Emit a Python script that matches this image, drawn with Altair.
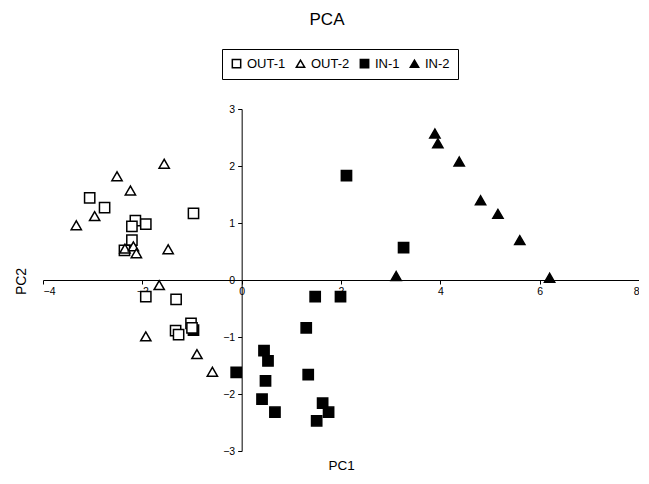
import altair as alt
import pandas as pd

series_names = ["OUT-1", "OUT-2", "IN-1", "IN-2"]

out1_x = [-3.06, -2.76, -2.14, -2.21, -1.93, -0.97, -2.21, -2.36, -1.93, -1.32, -1.33, -1.27, -1.02, -1.00]
out1_y = [1.44, 1.27, 1.04, 0.94, 0.98, 1.17, 0.70, 0.52, -0.29, -0.34, -0.89, -0.96, -0.76, -0.84]

out2_x = [-3.33, -2.96, -2.51, -2.24, -1.56, -2.35, -2.18, -2.12, -1.48, -1.66, -1.93, -0.90, -0.59]
out2_y = [0.96, 1.12, 1.82, 1.57, 2.04, 0.55, 0.59, 0.47, 0.54, -0.09, -0.99, -1.30, -1.61]

in1_x = [1.48, 1.99, 1.30, 0.45, 0.53, -0.11, 0.48, 1.34, 0.41, 0.67, 1.63, 1.75, 1.51, 2.11, 3.26, -0.97]
in1_y = [-0.29, -0.29, -0.84, -1.24, -1.42, -1.62, -1.77, -1.66, -2.09, -2.32, -2.16, -2.32, -2.47, 1.83, 0.57, -0.88]

in2_x = [3.89, 3.95, 4.38, 4.81, 5.16, 5.60, 3.11, 6.20]
in2_y = [2.57, 2.40, 2.08, 1.40, 1.16, 0.70, 0.07, 0.04]

x_ticks = [-4, -2, 0, 2, 4, 6, 8]
y_ticks = [-3, -2, -1, 0, 1, 2, 3]

rows = []
for name, xs, ys in zip(series_names,
                        [out1_x, out2_x, in1_x, in2_x],
                        [out1_y, out2_y, in1_y, in2_y]):
    for a, b in zip(xs, ys):
        rows.append({"series": name, "x": a, "y": b})
df = pd.DataFrame(rows)

W, H = 596, 342
FONT = "Liberation Sans"

legend = alt.Legend(
    title=None, orient="none", direction="horizontal",
    legendX=179, legendY=-60,
    strokeColor="black", padding=8, fillColor="white",
    labelFont=FONT, labelFontSize=13, labelColor="black",
    symbolSize=70, symbolStrokeColor="black", symbolStrokeWidth=1.5,
    columnPadding=7, labelOffset=4,
)

chart = alt.Chart(df).mark_point(
    filled=True, stroke="black", strokeWidth=1.5, size=105, opacity=1
).encode(
    x=alt.X("x:Q", scale=alt.Scale(domain=[-4, 8], nice=False, zero=False),
            axis=alt.Axis(values=x_ticks, title="PC1", offset=-H / 2, grid=False,
                          domainColor="black", tickColor="black", tickSize=4,
                          labelFont=FONT, labelFontSize=10.5, labelColor="black",
                          labelPadding=2, format="d",
                          titleFont=FONT, titleFontSize=13.5, titleFontWeight="normal",
                          titleColor="black", titleY=178)),
    y=alt.Y("y:Q", scale=alt.Scale(domain=[-3, 3], nice=False, zero=False),
            axis=alt.Axis(values=y_ticks, title="PC2", offset=-W / 3, grid=False,
                          domainColor="black", tickColor="black", tickSize=4,
                          labelFont=FONT, labelFontSize=10.5, labelColor="black",
                          labelPadding=3, format="d",
                          titleFont=FONT, titleFontSize=14, titleFontWeight="normal",
                          titleColor="black", titleX=-213, titleY=172)),
    shape=alt.Shape("series:N",
                    scale=alt.Scale(domain=series_names,
                                    range=["square", "triangle-up", "square", "triangle-up"]),
                    legend=legend),
    fill=alt.Fill("series:N",
                  scale=alt.Scale(domain=series_names,
                                  range=["white", "white", "black", "black"]),
                  legend=legend),
    stroke=alt.Stroke("series:N",
                      scale=alt.Scale(domain=series_names,
                                      range=["black", "black", "black", "black"]),
                      legend=legend),
    order=alt.Order("series:N"),
).properties(
    width=W, height=H,
    padding={"left": 35, "top": 101, "right": 0, "bottom": 25},
    autosize="none",
    title=alt.TitleParams("PCA", font=FONT, fontSize=17, fontWeight="normal",
                          color="black", anchor="middle", dx=-14, offset=20),
).configure_view(strokeWidth=0)

chart.save("out.html", embed_options={"renderer": "svg", "actions": False})
